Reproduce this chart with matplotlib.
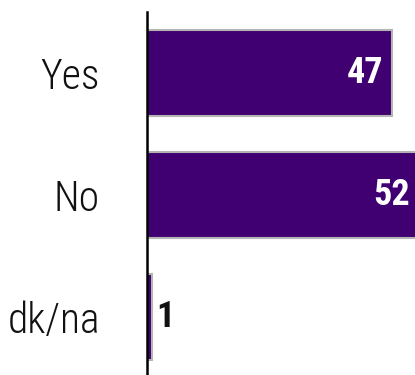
import matplotlib
matplotlib.use("Agg")
import matplotlib.pyplot as plt
from matplotlib import font_manager
from matplotlib.font_manager import FontProperties

categories = ["Yes", "No", "dk/na"]
values = [47, 52, 1]

NARROW_KEYS = ("Liberation Sans Narrow", "Arial Narrow", "Roboto Condensed",
               "Open Sans Condensed", "DejaVu Sans Condensed", "Condensed", "Narrow")


def _weight_num(w):
    if isinstance(w, int):
        return w
    return {"light": 300, "normal": 400, "regular": 400, "medium": 500,
            "semibold": 600, "bold": 700}.get(str(w).lower(), 400)


def pick_narrow_font(weight):
    """FontProperties for an upright narrow/condensed sans face nearest to `weight`."""
    entries = [f for f in font_manager.fontManager.ttflist if f.style == "normal"]
    for key in NARROW_KEYS:
        k = key.replace(" ", "").lower()
        cands = [f for f in entries
                 if k in (f.name + f.fname).replace(" ", "").replace("_", "").lower()]
        if cands:
            best = min(cands, key=lambda f: abs(_weight_num(f.weight) - weight))
            return FontProperties(fname=best.fname)
    return FontProperties(family="DejaVu Sans", weight=weight)


lab_fp = pick_narrow_font(300)
lab_fp.set_size(30)
num_fp = pick_narrow_font(700)
num_fp.set_size(26)

W, H = 415, 375
fig = plt.figure(figsize=(W / 100, H / 100), dpi=100)
left, right = 147, 415
top, bottom = 12, 378
ax = fig.add_axes([left / W, (H - bottom) / H, (right - left) / W, (bottom - top) / H])

bar_color = "#400072"
ypos = list(range(len(categories)))
ax.barh(ypos, values, height=0.71, color=bar_color, edgecolor="#b4b4b4",
        linewidth=1.5)

ax.set_xlim(0, 51.4)
ax.set_ylim(2.5, -0.5)

for y, v in zip(ypos, values):
    if v >= 10:
        ax.annotate(str(v), (v, y), xytext=(-6, 0), textcoords="offset points",
                    ha="right", va="center", color="white", fontproperties=num_fp,
                    annotation_clip=False)
    else:
        ax.annotate(str(v), (v, y), xytext=(3, 0), textcoords="offset points",
                    ha="left", va="center", color="#111111", fontproperties=num_fp,
                    annotation_clip=False)

ax.set_yticks(ypos)
ax.set_yticklabels(categories, color="#111111")
for t in ax.get_yticklabels():
    t.set_fontproperties(lab_fp)
ax.tick_params(axis="y", length=0, pad=34)
ax.set_xticks([])
for s in ["top", "right", "bottom"]:
    ax.spines[s].set_visible(False)
ax.spines["left"].set_linewidth(1.8)
ax.spines["left"].set_color("#000000")

fig.savefig("out.png", dpi=100)
